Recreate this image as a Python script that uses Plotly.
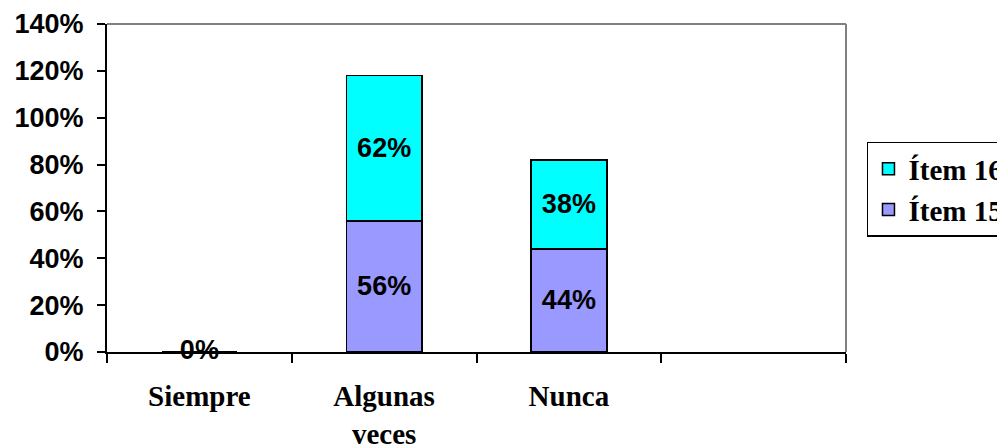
import plotly.graph_objects as go

categories = ["Siempre", "Algunas<br>veces", "Nunca", " "]
item15 = [0.0, 0.56, 0.44, None]
item16 = [0.0, 0.62, 0.38, None]
zero_label_cat = ["Siempre"]
zero_label_val = [0.0]
y_ticks = [0, 0.2, 0.4, 0.6, 0.8, 1.0, 1.2, 1.4]

sans = "Liberation Sans, Arial, sans-serif"
serif = "Liberation Serif, Times New Roman, serif"


def labels(vals):
    return ["%{y:.0%}" if (v is not None and v > 0) else "" for v in vals]


fig = go.Figure()
fig.add_trace(go.Bar(
    x=categories, y=item15, name="Ítem 15",
    marker=dict(color="#9999FF", line=dict(color="black", width=1.5)),
    texttemplate=labels(item15), textposition="inside",
    insidetextanchor="middle", textangle=0, constraintext="none",
    textfont=dict(family=sans, size=27, color="black", weight="bold"),
))
fig.add_trace(go.Bar(
    x=categories, y=item16, name="Ítem 16",
    marker=dict(color="#00FFFF", line=dict(color="black", width=1.5)),
    texttemplate=labels(item16), textposition="inside",
    insidetextanchor="middle", textangle=0, constraintext="none",
    textfont=dict(family=sans, size=27, color="black", weight="bold"),
))
fig.add_trace(go.Scatter(
    x=zero_label_cat, y=zero_label_val, mode="text",
    text=[f"{v:.0%}" for v in zero_label_val], textposition="middle center",
    textfont=dict(family=sans, size=27, color="black", weight="bold"),
    showlegend=False, cliponaxis=False, hoverinfo="skip",
))

fig.update_layout(
    width=1005, height=448,
    margin=dict(l=99, r=167, t=16, b=104),
    paper_bgcolor="white", plot_bgcolor="white",
    barmode="stack", bargap=0.59,
    showlegend=True,
    legend=dict(
        xref="container", yref="container",
        x=0.8547, y=0.7009, xanchor="left", yanchor="top",
        traceorder="reversed",
        bordercolor="black", borderwidth=1.5, bgcolor="white",
        font=dict(family=serif, size=29, color="black", weight="bold"),
        tracegroupgap=0,
    ),
    xaxis=dict(
        type="category", automargin=False,
        showline=True, linecolor="black", linewidth=2,
        ticks="outside", tickson="boundaries", ticklen=9, tickwidth=2, tickcolor="black",
        showgrid=False, zeroline=False,
        tickfont=dict(family=serif, size=29, color="black", weight="bold"),
        ticklabelstandoff=17,
        range=[-0.5, 3.5],
    ),
    yaxis=dict(
        range=[0, 1.4], tickvals=y_ticks, tickformat=".0%", automargin=False,
        showline=True, linecolor="black", linewidth=2,
        ticks="outside", ticklen=8, tickwidth=2, tickcolor="black",
        showgrid=False, zeroline=False,
        tickfont=dict(family=sans, size=27, color="black", weight="bold"),
        ticklabelstandoff=8,
    ),
    shapes=[
        dict(type="line", xref="paper", yref="paper", x0=0, x1=1, y0=1, y1=1,
             line=dict(color="#808080", width=2)),
        dict(type="line", xref="paper", yref="paper", x0=1, x1=1, y0=0, y1=1,
             line=dict(color="#808080", width=2)),
    ],
)

fig.write_html("out.html")
